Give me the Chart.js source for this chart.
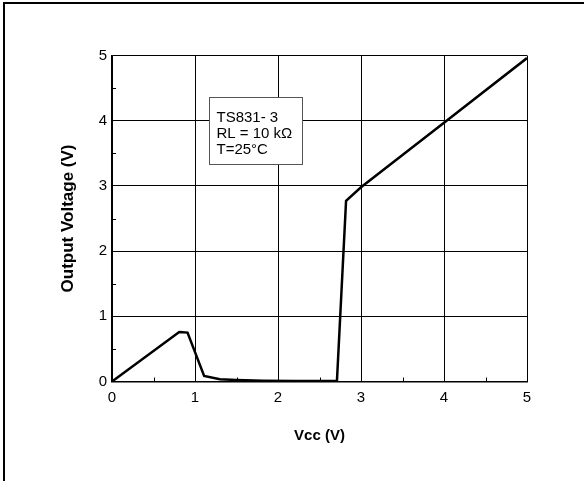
<!DOCTYPE html>
<html>
<head>
<meta charset="utf-8">
<script src="https://cdn.jsdelivr.net/npm/chart.js@4.4.1/dist/chart.umd.min.js"></script>
<style>
  html, body { margin: 0; padding: 0; background: #fff; }
  #wrap { position: relative; width: 584px; height: 481px; overflow: hidden; }
  #frame { position: absolute; left: 3px; top: 2px; right: -10px; bottom: -10px;
           border-top: 2px solid #000; border-left: 2px solid #000; }
  #chart { position: absolute; left: 0; top: 0; }
</style>
</head>
<body>
<div id="wrap">
  <div id="frame"></div>
  <canvas id="chart" width="584" height="481"></canvas>
</div>
<script>
// Vcc sweep (V) and output voltage (V)
const vcc  = [0, 0.81, 0.91, 1.11, 1.30, 1.50, 1.82, 2.20, 2.50, 2.71, 2.82, 3.00, 4.00, 5.00];
const vout = [0, 0.76, 0.75, 0.085, 0.034, 0.023, 0.012, 0.008, 0.006, 0.006, 2.77, 2.98, 3.97, 4.96];

const xTicks = [0, 1, 2, 3, 4, 5];
const yTicks = [0, 1, 2, 3, 4, 5];
const noteLines = ['TS831- 3', 'RL = 10 kΩ', 'T=25°C'];

const fontFamily = '"Liberation Sans", Arial, sans-serif';

// small inward minor ticks at the half values + the condition box
const extrasPlugin = {
  id: 'extras',
  afterDraw(chart) {
    const ctx = chart.ctx;
    const xs = chart.scales.x, ys = chart.scales.y;
    const area = chart.chartArea;
    ctx.save();
    ctx.strokeStyle = '#000';
    ctx.lineWidth = 1;
    ctx.beginPath();
    for (let i = 0; i < xTicks.length - 1; i++) {
      const px = Math.round(xs.getPixelForValue(xTicks[i] + 0.5)) + 0.5;
      ctx.moveTo(px, area.bottom);
      ctx.lineTo(px, area.bottom - 4);
    }
    for (let i = 0; i < yTicks.length - 1; i++) {
      const py = Math.round(ys.getPixelForValue(yTicks[i] + 0.5)) + 0.5;
      ctx.moveTo(area.left, py);
      ctx.lineTo(area.left + 4, py);
    }
    ctx.stroke();

    // condition box
    const bx = Math.round(xs.getPixelForValue(1.17)) + 0.5;
    const by = Math.round(ys.getPixelForValue(4.36)) + 0.5;
    const bw = Math.round(xs.getPixelForValue(2.29)) - Math.round(xs.getPixelForValue(1.17));
    const bh = Math.round(ys.getPixelForValue(3.34)) - Math.round(ys.getPixelForValue(4.36));
    ctx.fillStyle = '#fff';
    ctx.fillRect(bx, by, bw, bh);
    ctx.strokeStyle = '#555';
    ctx.strokeRect(bx, by, bw, bh);
    ctx.fillStyle = '#000';
    ctx.font = '15px ' + fontFamily;
    ctx.textBaseline = 'middle';
    ctx.textAlign = 'left';
    noteLines.forEach((t, i) => {
      ctx.fillText(t, bx + 7, by + 20 + i * 16);
    });
    ctx.restore();
  }
};

const chartData = {
  datasets: [
    {
      label: 'Output',
      data: vcc.map((v, i) => ({ x: v, y: vout[i] })),
      borderColor: '#000',
      backgroundColor: '#000',
      borderWidth: 2.5,
      pointRadius: 0,
      showLine: true,
      tension: 0,
    },
  ],
};

const chartOptions = {
  responsive: false,
  animation: false,
  layout: {
    padding: { top: 55.5, right: 57, bottom: 0, left: 0 },
  },
  plugins: {
    legend: { display: false },
    tooltip: { enabled: false },
  },
  scales: {
    x: {
      type: 'linear',
      min: 0,
      max: 5,
      afterFit: (scale) => { scale.height = 99.5; },
      afterBuildTicks: (scale) => { scale.ticks = xTicks.map(v => ({ value: v })); },
      ticks: {
        color: '#000',
        padding: 7,
        font: { size: 15, family: fontFamily },
      },
      grid: { color: '#000', lineWidth: 1, drawTicks: false },
      border: { color: '#000', width: 1.5 },
      title: {
        display: true,
        text: 'Vcc (V)',
        color: '#000',
        padding: { top: 0, bottom: 36 },
        font: { size: 15, weight: 'bold', family: fontFamily },
      },
    },
    y: {
      type: 'linear',
      min: 0,
      max: 5,
      afterFit: (scale) => { scale.width = 112; },
      afterBuildTicks: (scale) => { scale.ticks = yTicks.map(v => ({ value: v })); },
      ticks: {
        color: '#000',
        padding: 5,
        font: { size: 15, family: fontFamily },
      },
      grid: { color: '#000', lineWidth: 1, drawTicks: false },
      border: { color: '#000', width: 1.5 },
      title: {
        display: true,
        text: 'Output Voltage (V)',
        color: '#000',
        padding: { top: 58, bottom: 0 },
        font: { size: 17, weight: 'bold', family: fontFamily },
      },
    },
  },
};

new Chart(document.getElementById('chart').getContext('2d'), {
  type: 'scatter',
  data: chartData,
  options: chartOptions,
  plugins: [extrasPlugin],
});
</script>
</body>
</html>
